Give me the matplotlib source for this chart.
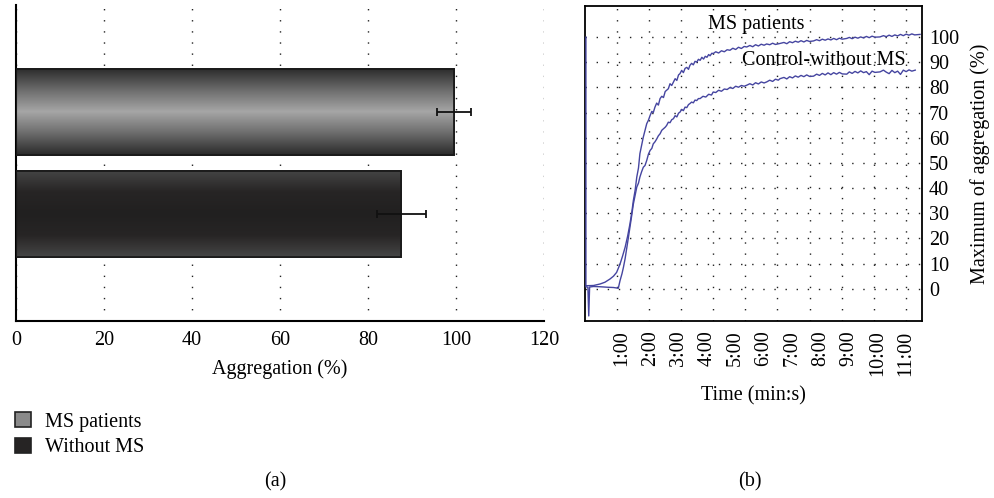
import numpy as np
import matplotlib
matplotlib.use("Agg")
import matplotlib.pyplot as plt
from matplotlib.colors import LinearSegmentedColormap
from matplotlib.patches import Patch

plt.rcParams['font.family'] = ['Liberation Serif', 'DejaVu Serif']

# (a) bar chart data
groups = ['Without MS', 'MS patients']
aggregation = [87.6, 99.5]
aggregation_err = [5.6, 3.9]
bar_ticks = [0, 20, 40, 60, 80, 100, 120]

# (b) aggregation traces (time in min, aggregation in %)
ms_t = [-0.27, -0.27, 0.0, 0.23, 0.4, 0.58, 0.7, 0.81, 0.93, 1.02, 1.11, 1.2, 1.28, 1.34, 1.40,
        1.46, 1.52, 1.58, 1.63, 1.69, 1.75, 1.81, 1.87, 1.93, 1.99, 2.05, 2.10, 2.16, 2.22, 2.28,
        2.34, 2.40, 2.46, 2.52, 2.57, 2.63, 2.69, 2.75, 2.81, 2.87, 2.93, 2.99, 3.04, 3.1, 3.16,
        3.22, 3.28, 3.34, 3.39, 3.45, 3.51, 3.57, 3.63, 3.69, 3.75, 3.81, 3.87, 3.93, 3.99, 4.05,
        4.1, 4.16, 4.21, 4.3, 4.4, 4.5, 4.6, 4.7, 4.8, 4.9, 5.0, 5.1, 5.2, 5.3, 5.39, 5.5, 5.6,
        5.7, 5.8, 5.9, 6.0, 6.09, 6.2, 6.3, 6.4, 6.56, 6.7, 6.8, 6.9, 7.0, 7.1, 7.2, 7.3, 7.4,
        7.5, 7.6, 7.74, 7.85, 7.95, 8.05, 8.15, 8.25, 8.35, 8.45, 8.55, 8.65, 8.75, 8.91, 9.0,
        9.1, 9.2, 9.3, 9.4, 9.5, 9.6, 9.7, 9.8, 9.9, 10.08, 10.2, 10.3, 10.4, 10.5, 10.6, 10.7,
        10.8, 10.9, 11.0, 11.1, 11.2, 11.3, 11.49]
ms_val = [100, 1.2, 1.3, 1.9, 2.6, 3.9, 5.0, 6.5, 9.8, 13, 16.5, 21, 25.8, 30, 35.1,
          39, 44.4, 48, 53.7, 57, 60.3, 63, 65.6, 67, 68.9, 70.5, 70.0, 72.2, 73.8, 73.0,
          75.6, 76.5, 76.0, 78.4, 78.9, 79.5, 81.5, 80.8, 82.2, 83.5, 82.8, 85.0, 85.5, 86.8, 85.9,
          87.6, 88.0, 87.2, 88.8, 89.6, 89.0, 90.4, 90.1, 91.2, 90.8, 92.0, 91.3, 92.4, 92.0, 93.1,
          92.6, 93.6, 93.5, 94.2, 93.7, 94.6, 94.2, 95.0, 94.8, 95.6, 95.1, 96.0, 95.5, 96.3, 96.1,
          96.7, 96.2, 97.0, 96.5, 97.2, 96.8, 97.3, 97.0, 97.6, 97.1, 97.5, 97.9, 97.4, 98.2, 97.8,
          98.4, 98.0, 98.6, 98.1, 98.7, 98.3, 98.5, 99.0, 98.6, 99.2, 98.8, 99.3, 98.9, 99.5, 99.0,
          99.6, 99.2, 99.5, 99.9, 99.4, 100.0, 99.6, 100.1, 99.7, 100.3, 99.8, 100.4, 100.0, 100.1,
          100.6, 100.2, 100.8, 100.3, 100.9, 100.5, 101.1, 100.6, 101.2, 100.8, 101.3, 100.9, 101.1]

ctrl_t = [-0.27, -0.2, -0.17, -0.14, 0.0, 0.23, 0.5, 0.7, 0.81, 0.87, 0.93, 1.0, 1.05, 1.11, 1.17,
          1.22, 1.28, 1.34, 1.40, 1.46, 1.52, 1.58, 1.63, 1.69, 1.75, 1.81, 1.87, 1.93, 1.99, 2.05,
          2.10, 2.16, 2.22, 2.28, 2.34, 2.40, 2.46, 2.52, 2.57, 2.63, 2.69, 2.75, 2.81, 2.87, 2.93,
          2.99, 3.04, 3.1, 3.16, 3.22, 3.28, 3.34, 3.39, 3.45, 3.51, 3.57, 3.63, 3.69, 3.75, 3.85,
          3.95, 4.05, 4.15, 4.21, 4.3, 4.4, 4.5, 4.6, 4.7, 4.8, 4.9, 5.0, 5.1, 5.2, 5.3, 5.39, 5.5,
          5.6, 5.7, 5.8, 5.9, 6.0, 6.09, 6.2, 6.3, 6.4, 6.5, 6.56, 6.7, 6.8, 6.9, 7.0, 7.1, 7.2,
          7.3, 7.4, 7.5, 7.6, 7.74, 7.85, 7.95, 8.05, 8.15, 8.25, 8.35, 8.45, 8.55, 8.65, 8.75,
          8.91, 9.0, 9.1, 9.2, 9.3, 9.4, 9.5, 9.6, 9.7, 9.8, 9.9, 10.08, 10.2, 10.3, 10.4, 10.5,
          10.6, 10.7, 10.8, 10.9, 11.0, 11.1, 11.2, 11.32]
ctrl_val = [0.8, 0.6, -10.8, 0.7, 0.9, 0.8, 0.6, 0.5, 0.3, 0.2, 3.2, 6, 8.5, 12, 16.5,
            20, 24.4, 29, 33.7, 37, 40.4, 42, 44.4, 46.5, 48.3, 49.0, 51, 53.5, 55, 55.8,
            57.6, 58.4, 59.5, 60.8, 61.6, 63.0, 63.6, 64.2, 64.9, 66.2, 66.0, 67.2, 67.6, 68.8, 68.3,
            69.8, 70.2, 71.3, 70.8, 72.2, 72.0, 73.2, 73.6, 74.2, 73.9, 75.0, 74.8, 75.6, 75.6, 76.5,
            76.2, 77.3, 77.0, 78.2, 78.0, 78.9, 78.5, 79.4, 79.2, 80.0, 79.6, 80.5, 80.1, 80.8, 80.5,
            80.9, 81.5, 81.0, 81.9, 81.4, 82.2, 81.8, 82.2, 82.9, 82.4, 83.3, 82.9, 83.5, 84.0, 83.4,
            84.3, 83.8, 84.6, 84.1, 84.8, 84.3, 85.0, 84.4, 84.5, 85.3, 84.8, 85.6, 85.0, 85.8, 85.1,
            85.9, 85.3, 86.0, 85.4, 85.3, 86.2, 85.6, 86.4, 85.8, 86.6, 85.9, 86.3, 85.1, 86.5, 86.0,
            86.2, 86.9, 86.1, 85.5, 86.8, 85.9, 86.5, 85.2, 86.9, 86.3, 87.0, 86.5, 86.9]

time_ticks = [1, 2, 3, 4, 5, 6, 7, 8, 9, 10, 11]
time_labels = ['1:00', '2:00', '3:00', '4:00', '5:00', '6:00', '7:00', '8:00', '9:00', '10:00', '11:00']
time_grid = [0.82, 1.95, 3.08, 4.21, 5.34, 6.47, 7.60, 8.73, 9.86, 10.99]
pct_ticks = [0, 10, 20, 30, 40, 50, 60, 70, 80, 90, 100]

fs = 14.5
dots = (0, (1, 7))

fig = plt.figure(figsize=(9.95, 4.98), dpi=100)

# ---- (a) ----
ax1 = fig.add_axes([0.0161, 0.3554, 0.5307, 0.6346])
ypos = [0, 1]
bars = ax1.barh(ypos, aggregation, height=0.84, color='#444444', edgecolor='#1a1a1a', lw=1.3, zorder=2)
cmaps = [LinearSegmentedColormap.from_list('wo', ['#454545', '#272525', '#212020', '#272525', '#454545']),
         LinearSegmentedColormap.from_list('ms', ['#2a2a2a', '#6c6c6c', '#a6a6a6', '#6c6c6c', '#2a2a2a'])]
grad = np.linspace(0, 1, 256).reshape(-1, 1)
for b, cm in zip(bars, cmaps):
    x0, y0, w, h = b.get_x(), b.get_y(), b.get_width(), b.get_height()
    im = ax1.imshow(grad, cmap=cm, extent=[x0, x0 + w, y0, y0 + h], aspect='auto', zorder=2.5)
    im.set_clip_path(b)
    edge = plt.Rectangle((x0, y0), w, h, fill=False, edgecolor='#1a1a1a', lw=1.3, zorder=2.6)
    ax1.add_patch(edge)
ax1.errorbar(aggregation, ypos, xerr=aggregation_err, fmt='none', ecolor='#111111',
             elinewidth=1.3, capsize=3.2, capthick=1.3, zorder=3)
ax1.set_xlim(0, 120)
ax1.set_ylim(-1.04, 2.04)
ax1.set_xticks(bar_ticks)
ax1.set_yticks([])
ax1.xaxis.grid(True, color='#222222', lw=1.0, linestyle=dots)
ax1.set_axisbelow(True)
for s in ['top', 'right']:
    ax1.spines[s].set_visible(False)
for s in ['left', 'bottom']:
    ax1.spines[s].set_linewidth(1.5)
ax1.tick_params(axis='x', length=0, pad=7, labelsize=fs)
ax1.set_xlabel('Aggregation (%)', fontsize=fs, labelpad=7)

fig.legend(handles=[Patch(facecolor='#8a8a8a', edgecolor='#222222', lw=1.2),
                    Patch(facecolor='#262424', edgecolor='#222222', lw=1.2)],
           labels=['MS patients', 'Without MS'], loc='upper left',
           bbox_to_anchor=(15 / 995, 1 - 412 / 498), frameon=False, fontsize=fs,
           borderpad=0, borderaxespad=0,
           handlelength=0.8, handleheight=0.8, handletextpad=0.7, labelspacing=0.3)

fig.text(275 / 995, 1 - 482 / 498, '(a)', ha='center', va='center', fontsize=fs)
fig.text(750 / 995, 1 - 482 / 498, '(b)', ha='center', va='center', fontsize=fs)

# ---- (b) ----
ax2 = fig.add_axes([0.588, 0.356, 0.3387, 0.632])
trace_col = '#4545a0'
ax2.plot(ms_t, ms_val, color=trace_col, lw=1.0, zorder=3)
ax2.plot(ctrl_t, ctrl_val, color=trace_col, lw=1.0, zorder=3)
ax2.set_xlim(-0.30, 11.56)
ax2.set_ylim(-12.7, 112.4)
ax2.set_xticks(time_ticks)
ax2.set_xticklabels(time_labels, rotation=90)
ax2.set_xticks(time_grid, minor=True)
ax2.set_yticks(pct_ticks)
ax2.yaxis.tick_right()
ax2.yaxis.set_label_position('right')
ax2.tick_params(axis='both', which='both', length=0, labelsize=fs)
ax2.tick_params(axis='x', pad=7)
ax2.tick_params(axis='y', pad=5)
ax2.xaxis.grid(True, which='minor', color='#222222', lw=1.0, linestyle=dots)
ax2.yaxis.grid(True, which='major', color='#222222', lw=1.0, linestyle=dots)
ax2.set_axisbelow(True)
for s in ax2.spines.values():
    s.set_linewidth(1.3)
ax2.set_xlabel('Time (min:s)', fontsize=fs, labelpad=7)
ax2.set_ylabel('Maximum of aggregation (%)', fontsize=fs, labelpad=8)
ax2.text(5.72, 105.2, 'MS patients', ha='center', va='center', fontsize=fs, zorder=4)
ax2.text(8.11, 90.8, 'Control-without MS', ha='center', va='center', fontsize=fs, zorder=4)

fig.savefig('out.png', dpi=100)
